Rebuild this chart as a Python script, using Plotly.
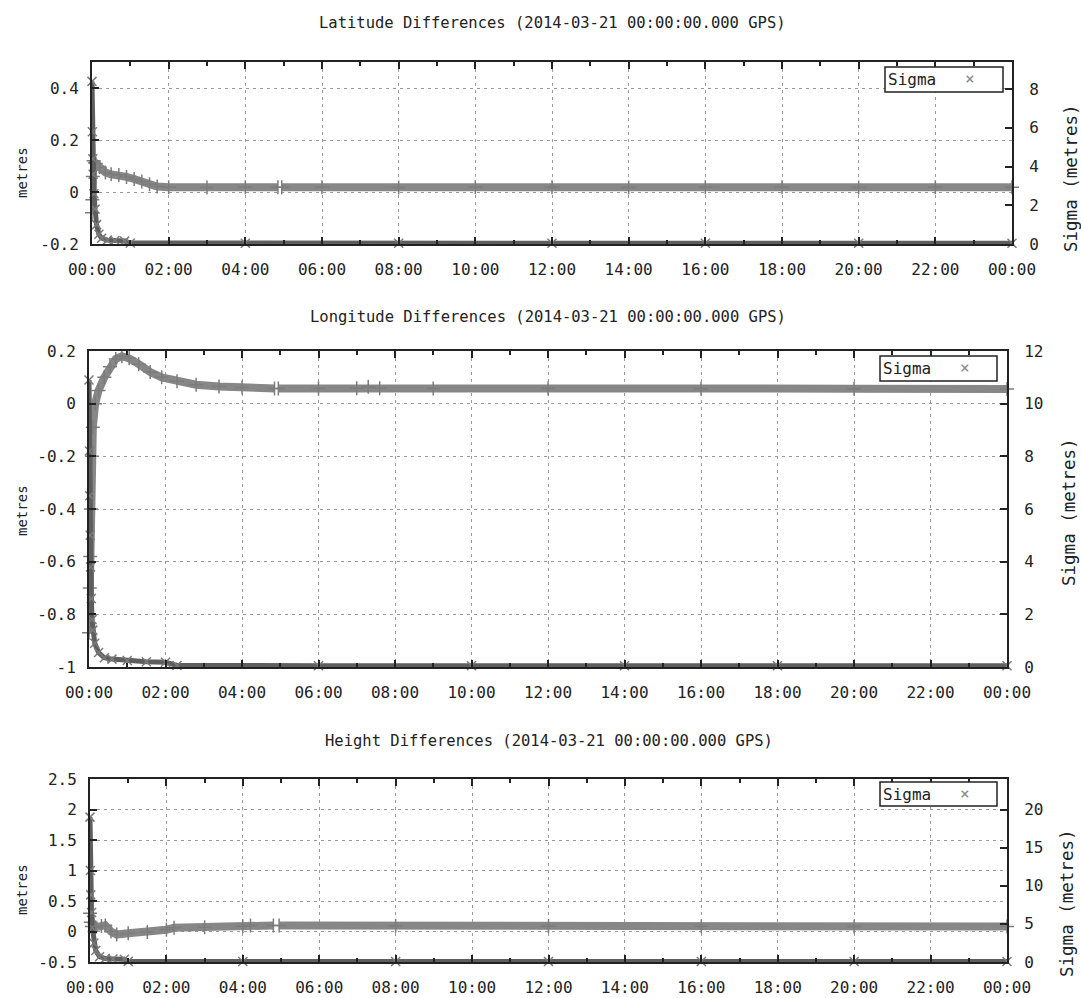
import plotly.graph_objects as go

# ---------------- data ----------------
X_TICK_HOURS = [0, 2, 4, 6, 8, 10, 12, 14, 16, 18, 20, 22, 24]
X_TICK_LABELS = ["00:00", "02:00", "04:00", "06:00", "08:00", "10:00", "12:00",
                 "14:00", "16:00", "18:00", "20:00", "22:00", "00:00"]

TITLES = ["Latitude Differences (2014-03-21 00:00:00.000 GPS)",
          "Longitude Differences (2014-03-21 00:00:00.000 GPS)",
          "Height Differences (2014-03-21 00:00:00.000 GPS)"]

# Latitude
LAT_T = [0, 0.01, 0.02, 0.04, 0.1, 0.2, 0.35, 0.5, 0.7, 0.9, 1.1, 1.3, 1.5, 1.7, 2.0, 3.0, 4.0, 4.85,
         4.9, 4.95, 6, 8, 10, 12, 14, 16, 18, 20, 22, 24]
LAT_DIFF = [-0.08, -0.03, 0.06, 0.12, 0.11, 0.095, 0.075, 0.068, 0.065, 0.058, 0.05, 0.04, 0.03, 0.021,
            0.018, 0.017, 0.018, 0.018, None, 0.018, 0.018, 0.017, 0.018, 0.018, 0.017, 0.018, 0.018,
            0.017, 0.018, 0.018]
LAT_SIG_T = [0, 0.01, 0.02, 0.03, 0.05, 0.08, 0.12, 0.18, 0.25, 0.4, 0.6, 0.85, 1.0, 4, 8, 12, 16, 20, 24]
LAT_SIGMA = [8.4, 5.8, 4.4, 3.6, 2.6, 1.8, 1.0, 0.5, 0.3, 0.2, 0.18, 0.15, 0.05, 0.04, 0.04, 0.04,
             0.04, 0.04, 0.04]

# Longitude
LON_T = [0, 0.02, 0.03, 0.05, 0.08, 0.1, 0.16, 0.25, 0.4, 0.55, 0.7, 0.86, 1.05, 1.3, 1.6, 1.9, 2.3,
         2.8, 3.4, 4.0, 4.85, 4.9, 4.95, 6.0, 7.0, 7.3, 7.6, 9, 12, 16, 20, 24]
LON_DIFF = [-0.87, -0.7, -0.58, -0.4, -0.2, -0.09, 0.0, 0.05, 0.1, 0.14, 0.17, 0.18, 0.172, 0.15,
            0.12, 0.1, 0.085, 0.072, 0.065, 0.061, 0.058, None, 0.058, 0.058, 0.059, 0.064, 0.059,
            0.058, 0.058, 0.057, 0.057, 0.056]
LON_SIG_T = [0, 0.01, 0.02, 0.03, 0.04, 0.06, 0.08, 0.1, 0.15, 0.25, 0.4, 0.6, 1.0, 1.5, 2.0, 2.3,
             6, 10, 14, 18, 24]
LON_SIGMA = [10.9, 8.2, 6.5, 5.0, 3.8, 2.6, 1.8, 1.4, 0.9, 0.55, 0.35, 0.3, 0.25, 0.2, 0.18, 0.06,
             0.05, 0.05, 0.05, 0.05, 0.05]

# Height
HGT_T = [0, 0.02, 0.05, 0.15, 0.3, 0.4, 0.55, 0.7, 1.0, 1.5, 2.0, 2.2, 3.0, 4.0, 4.2, 4.8, 4.85,
         4.95, 8, 12, 16, 20, 24]
HGT_DIFF = [0.3, 0.15, 0.08, 0.07, 0.09, 0.1, 0.0, -0.05, -0.03, -0.01, 0.03, 0.06, 0.07, 0.085,
            0.1, 0.1, None, 0.1, 0.095, 0.09, 0.085, 0.08, 0.08]
HGT_SIG_T = [0, 0.01, 0.02, 0.04, 0.06, 0.1, 0.15, 0.25, 0.4, 0.6, 0.9, 1.0, 4, 8, 12, 16, 20, 24]
HGT_SIGMA = [19.0, 12.0, 8.8, 6.5, 4.5, 2.5, 1.5, 0.7, 0.45, 0.4, 0.35, 0.08, 0.06, 0.06, 0.06,
             0.06, 0.06, 0.06]

# y axes
Y1_TICKS = [[-0.2, 0, 0.2, 0.4], [-1, -0.8, -0.6, -0.4, -0.2, 0, 0.2],
            [-0.5, 0, 0.5, 1, 1.5, 2, 2.5]]
Y1_LABELS = [["-0.2", "0", "0.2", "0.4"], ["-1", "-0.8", "-0.6", "-0.4", "-0.2", "0", "0.2"],
             ["-0.5", "0", "0.5", "1", "1.5", "2", "2.5"]]
Y1_RANGES = [[-0.2, 0.5], [-1, 0.2], [-0.5, 2.5]]
Y2_TICKS = [[0, 2, 4, 6, 8], [0, 2, 4, 6, 8, 10, 12], [0, 5, 10, 15, 20]]
Y2_RANGES = [[0, 9.4], [0, 12], [0, 24]]

# ---------------- layout geometry (pixels) ----------------
W, H = 1081, 998
PANELS = [
    dict(x0=92, x1=1012, y0=62, y1=244, title_y=23, lab_y=173, rlab_y=178, rlab_x=1071,
         leg=(885, 1003, 67, 92)),
    dict(x0=89, x1=1007, y0=351, y1=667, title_y=317, lab_y=511, rlab_y=512, rlab_x=1069,
         leg=(880, 997, 356, 381)),
    dict(x0=90, x1=1007, y0=779, y1=962, title_y=741, lab_y=890, rlab_y=903, rlab_x=1067,
         leg=(880, 997, 782, 806)),
]

def px(x):
    return x / W

def py(y):
    return 1 - y / H

FONT = "DejaVu Sans Mono"
INK = "#222222"
GRID = "#9a9a9a"
DIFF_COL = "#878787"
SIG_COL = "#7a7a7a"

series = [(LAT_T, LAT_DIFF, LAT_SIG_T, LAT_SIGMA),
          (LON_T, LON_DIFF, LON_SIG_T, LON_SIGMA),
          (HGT_T, HGT_DIFF, HGT_SIG_T, HGT_SIGMA)]

fig = go.Figure()
layout = dict(width=W, height=H, margin=dict(l=0, r=0, t=0, b=0, pad=0), template="none",
              paper_bgcolor="white", plot_bgcolor="white", showlegend=False)
annotations = []
shapes = []

for i, (p, (t, d, st, s)) in enumerate(zip(PANELS, series)):
    xn = "x" if i == 0 else f"x{i+1}"
    yl_idx = 2 * i + 1
    yr_idx = 2 * i + 2
    yl = "y" if yl_idx == 1 else f"y{yl_idx}"
    yr = f"y{yr_idx}"
    xkey = "xaxis" if i == 0 else f"xaxis{i+1}"
    ylkey = "yaxis" if yl_idx == 1 else f"yaxis{yl_idx}"
    yrkey = f"yaxis{yr_idx}"

    layout[xkey] = dict(
        domain=[px(p["x0"]), px(p["x1"])], anchor=yl, range=[0, 24], automargin=False,
        tickmode="array", tickvals=X_TICK_HOURS, ticktext=X_TICK_LABELS,
        ticks="inside", ticklen=7, tickwidth=1.5, tickcolor=INK,
        showline=True, linewidth=2, linecolor=INK, mirror="ticks",
        showgrid=True, gridcolor=GRID, gridwidth=1, griddash="3px,4px",
        zeroline=False, ticklabelstandoff=10,
        minor=dict(tickmode="linear", tick0=0, dtick=1, ticks="inside", ticklen=4,
                   tickcolor=INK, showgrid=False),
        tickfont=dict(family=FONT, size=16, color=INK),
    )
    layout[ylkey] = dict(
        domain=[py(p["y1"]), py(p["y0"])], anchor=xn, range=Y1_RANGES[i], automargin=False,
        tickmode="array", tickvals=Y1_TICKS[i], ticktext=Y1_LABELS[i],
        ticks="inside", ticklen=7, tickwidth=1.5, tickcolor=INK,
        showline=True, linewidth=2, linecolor=INK, mirror=True,
        showgrid=True, gridcolor=GRID, gridwidth=1, griddash="3px,4px",
        zeroline=False, ticklabelstandoff=8,
        tickfont=dict(family=FONT, size=16, color=INK),
    )
    layout[yrkey] = dict(
        overlaying=yl, side="right", anchor=xn, range=Y2_RANGES[i], automargin=False,
        tickmode="array", tickvals=Y2_TICKS[i],
        ticks="inside", ticklen=7, tickwidth=1.5, tickcolor=INK,
        showline=True, linewidth=2, linecolor=INK,
        showgrid=False, zeroline=False, ticklabelstandoff=12,
        tickfont=dict(family=FONT, size=16, color=INK),
    )

    fig.add_trace(go.Scatter(
        x=st, y=s, xaxis=xn, yaxis=yr, mode="lines+markers", name="Sigma",
        line=dict(color="#5e5e5e", width=5), cliponaxis=False,
        marker=dict(symbol="x-thin", size=9, line=dict(color=SIG_COL, width=1.5)),
    ))
    fig.add_trace(go.Scatter(
        x=t, y=d, xaxis=xn, yaxis=yl, mode="lines+markers", connectgaps=False,
        line=dict(color=DIFF_COL, width=8), cliponaxis=False,
        marker=dict(symbol="cross-thin", size=10, line=dict(color="#7c7c7c", width=1.5)),
    ))

    cx = (p["x0"] + p["x1"]) / 2
    annotations.append(dict(text=TITLES[i], x=px(cx), y=py(p["title_y"]), xref="paper",
                            yref="paper", showarrow=False, xanchor="center", yanchor="middle",
                            font=dict(family=FONT, size=15.5, color=INK)))
    annotations.append(dict(text="metres", x=px(22), y=py(p["lab_y"]), xref="paper",
                            yref="paper", showarrow=False, textangle=-90, xanchor="center",
                            yanchor="middle", font=dict(family=FONT, size=14, color=INK)))
    annotations.append(dict(text="Sigma (metres)", x=px(p["rlab_x"]), y=py(p["rlab_y"]),
                            xref="paper", yref="paper", showarrow=False, textangle=-90,
                            xanchor="center", yanchor="middle",
                            font=dict(family=FONT, size=17.5, color=INK)))
    lx0, lx1, ly0, ly1 = p["leg"]
    shapes.append(dict(type="rect", xref="paper", yref="paper", x0=px(lx0), x1=px(lx1),
                       y0=py(ly1), y1=py(ly0), line=dict(color=INK, width=1.5),
                       fillcolor="white", layer="above"))
    annotations.append(dict(text="Sigma", x=px(lx0 + 1), y=py((ly0 + ly1) / 2), xref="paper",
                            yref="paper", showarrow=False, xanchor="left", yanchor="middle",
                            font=dict(family=FONT, size=16, color=INK)))
    annotations.append(dict(text="×", x=px(lx0 + 85), y=py((ly0 + ly1) / 2 - 1), xref="paper",
                            yref="paper", showarrow=False, xanchor="center", yanchor="middle",
                            font=dict(family=FONT, size=16, color="#888888")))

layout["annotations"] = annotations
layout["shapes"] = shapes
fig.update_layout(**layout)
fig.write_html(
    "out.html",
    config={"displayModeBar": False},
    post_script="document.body.style.margin='0';document.body.style.padding='0';"
                "document.documentElement.style.overflow='hidden';",
)
